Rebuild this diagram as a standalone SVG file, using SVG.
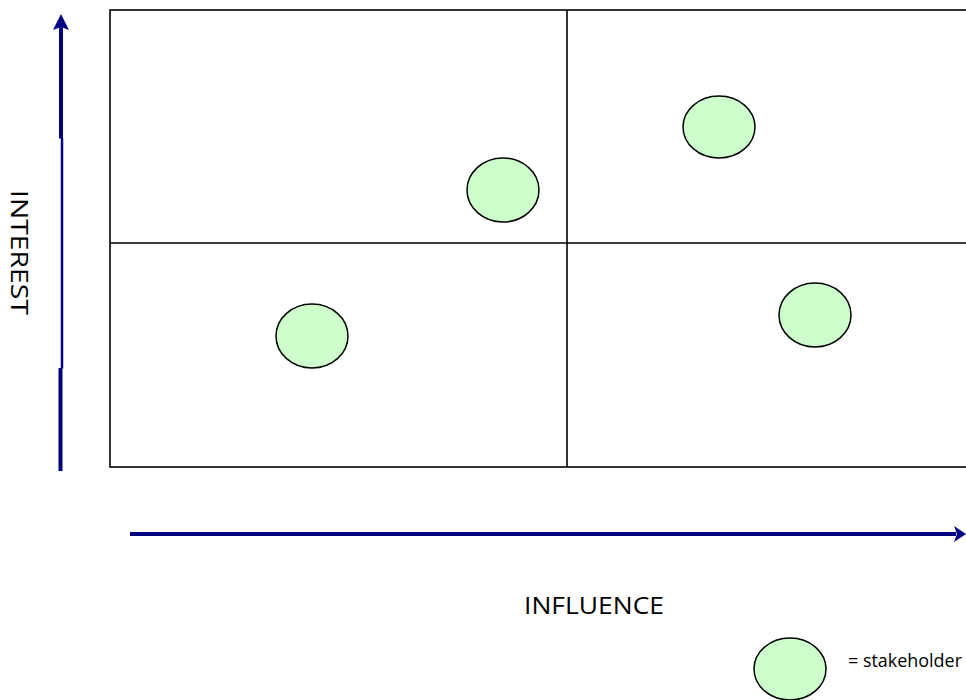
<svg xmlns="http://www.w3.org/2000/svg" width="966" height="700" viewBox="0 0 966 700">
<style>
.grid{stroke:#000;stroke-width:1.6;fill:none}
.axis{stroke:#000080;fill:none}
.node ellipse{fill:#ccffcc;stroke:#000;stroke-width:1.5}
.lbl{font-family:"Open Sans","Liberation Sans",sans-serif;fill:#000}
</style>
<rect width="966" height="700" fill="#fff"/>
<g id="grid">
<rect class="grid" x="110" y="10" width="870" height="457"/>
<line class="grid" x1="567" y1="10" x2="567" y2="467"/>
<line class="grid" x1="110" y1="243" x2="966" y2="243"/>
</g>
<g id="connectors">
<line class="axis" x1="61" y1="26" x2="61" y2="138.5" stroke-width="4"/>
<line class="axis" x1="62" y1="138" x2="62" y2="368.5" stroke-width="2.5"/>
<line class="axis" x1="60.5" y1="368" x2="60.5" y2="471" stroke-width="4"/>
<polygon points="61,14 69,30 61,27 53,30" fill="#000080"/>
<line class="axis" x1="130" y1="534" x2="956" y2="534" stroke-width="4"/>
<polygon points="966,534 954,526 957,534 954,542" fill="#000080"/>
</g>
<g id="s1" class="node"><ellipse cx="503" cy="190" rx="36" ry="32"/></g>
<g id="s2" class="node"><ellipse cx="719" cy="127" rx="36" ry="31"/></g>
<g id="s3" class="node"><ellipse cx="312" cy="336" rx="36" ry="32"/></g>
<g id="s4" class="node"><ellipse cx="815" cy="315" rx="36" ry="32"/></g>
<g id="legend" class="node"><ellipse cx="790" cy="669" rx="36" ry="31"/>
<text class="lbl" x="848" y="667" font-size="18" textLength="114" lengthAdjust="spacingAndGlyphs">= stakeholder</text></g>
<text class="lbl" x="190" y="0" font-size="23" textLength="125" lengthAdjust="spacingAndGlyphs" transform="translate(11,0) rotate(90)">INTEREST</text>
<text class="lbl" x="524" y="614" font-size="23" textLength="140" lengthAdjust="spacingAndGlyphs">INFLUENCE</text>
</svg>
